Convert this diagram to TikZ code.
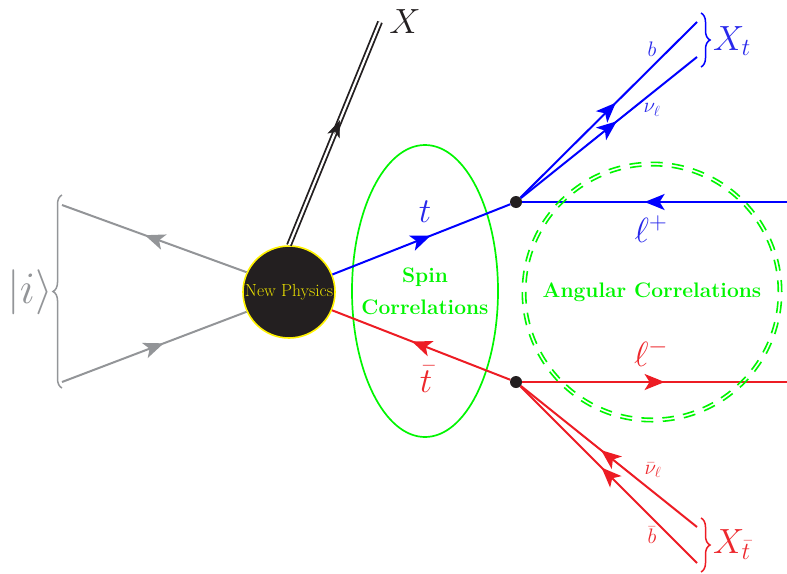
\RequirePackage{fix-cm}
\documentclass[tikz,border=0pt]{standalone}
\usetikzlibrary{arrows.meta,decorations.markings,decorations.pathreplacing,shapes.geometric,calc}
\definecolor{lblue}{RGB}{0,0,255}
\definecolor{tblue}{RGB}{40,40,235}
\definecolor{lred}{RGB}{237,28,36}
\definecolor{tred}{RGB}{237,40,45}
\definecolor{lgray}{RGB}{147,149,152}
\definecolor{lgreen}{RGB}{0,245,0}
\definecolor{dotblack}{RGB}{35,31,32}
\definecolor{npyellow}{RGB}{255,242,0}
\definecolor{nptext}{RGB}{235,225,0}
\begin{document}
\begin{tikzpicture}[x=1pt,y=-1pt,
  line/.style={line width=2pt},
  midfwd/.style={postaction={decorate},decoration={markings,
     mark=at position 0.5 with {\arrow[xshift=10pt]{Stealth[length=20pt,width=16pt,inset=5pt]}}}},
  blob/.style={circle,fill=dotblack,draw=npyellow,line width=1.6pt,minimum size=92pt,inner sep=0pt,
     text=nptext,font=\fontsize{17.5}{19}\selectfont},
  vertex/.style={circle,fill=dotblack,inner sep=0pt,minimum size=12pt},
  biglabel/.style={inner sep=0pt,font=\fontsize{35}{40}\selectfont},
  smalllabel/.style={inner sep=0pt,font=\fontsize{21}{24}\selectfont},
  corrtext/.style={text=lgreen,font=\fontsize{21}{32}\selectfont\bfseries,align=center},
  bracestyle/.style={line width=1.5pt,decorate,decoration={brace,amplitude=9pt}},
  dashring/.style={lgreen,line width=1.6pt},
]
\useasboundingbox (0,0) rectangle (787,573);

% nodes
\node[blob] (np) at (289,292) {New Physics};
\node[vertex] (vt) at (516,202) {};
\node[vertex] (vb) at (516,382) {};
\coordinate (ia) at (62,205);
\coordinate (ib) at (62,382);
\coordinate (xend) at (380,22);
\coordinate (bt) at (697,22);
\coordinate (nut) at (697,57);
\coordinate (lp) at (787,202);
\coordinate (lm) at (787,382);
\coordinate (nub) at (697,527);
\coordinate (bb) at (697,563);

% spin correlations ellipse
\node[inner sep=0pt,corrtext] (spin) at (425,291) {Spin\\Correlations};
\draw[lgreen,line width=1.7pt] (spin.center) ellipse[x radius=73pt,y radius=146pt];

% incoming
\draw[line,lgray,midfwd] (np.155) -- (ia);
\draw[line,lgray,midfwd] (ib) -- (np.205);
\draw[lgray,bracestyle] (62,388) -- (62,195);
\node[inner sep=0pt,text=lgray,font=\fontsize{45}{50}\selectfont] (ilab) at (30,292) {$|i\rangle$};

% X
\draw[dotblack,line width=1.8pt,double=white,double distance=2.2pt] (np.north) -- (xend);
\path (np.north) -- (xend) coordinate[pos=0.5] (xm1) coordinate[pos=0.56] (xm2);
\draw[dotblack,line width=0.5pt,-{Stealth[length=17pt,width=13pt,inset=4.5pt]}] (xm1) -- (xm2);
\node[biglabel,text=dotblack] (xlab) at (405,22) {$X$};

% top quark
\draw[line,lblue,midfwd] (np.22) -- (vt);
\node[biglabel,text=tblue] (tlab) at (425,212) {$t$};
\draw[line,lblue,midfwd] (vt) -- (bt);
\draw[line,lblue,midfwd] (vt) -- (nut);
\draw[line,lblue,midfwd] (lp) -- (vt);
\node[smalllabel,text=tblue] (blab) at (652,49) {$b$};
\node[smalllabel,text=tblue] (nulab) at (652,110) {$\nu_\ell$};
\node[biglabel,text=tblue] (lplab) at (651,229) {$\ell^+$};
\draw[lblue,bracestyle] (701,13) -- (701,67);
\node[biglabel,text=tblue,anchor=base west] (xtlab) at (713,50) {$X_t$};

% anti-top
\draw[line,lred,midfwd] (vb) -- (np.-23);
\node[biglabel,text=tred] (tbarlab) at (426,379) {$\bar t$};
\draw[line,lred,midfwd] (nub) -- (vb);
\draw[line,lred,midfwd] (bb) -- (vb);
\draw[line,lred,midfwd] (vb) -- (lm);
\node[smalllabel,text=tred] (nublab) at (653,470) {$\bar\nu_\ell$};
\node[smalllabel,text=tred] (bblab) at (652,535) {$\bar b$};
\node[biglabel,text=tred] (lmlab) at (651,353) {$\ell^-$};
\draw[lred,bracestyle] (701,518) -- (701,572);
\node[biglabel,text=tred,anchor=base west] (xtblab) at (713,553) {$X_{\bar t}$};

% angular correlations circle
\node[inner sep=0pt,corrtext] (ang) at (652,292) {Angular Correlations};
\draw[dashring,dash pattern={on 11.97pt off 9.48pt}] (ang.center) circle[radius=129.7pt];
\draw[dashring,dash pattern={on 11.66pt off 9.22pt}] (ang.center) circle[radius=126.3pt];
\end{tikzpicture}
\end{document}
